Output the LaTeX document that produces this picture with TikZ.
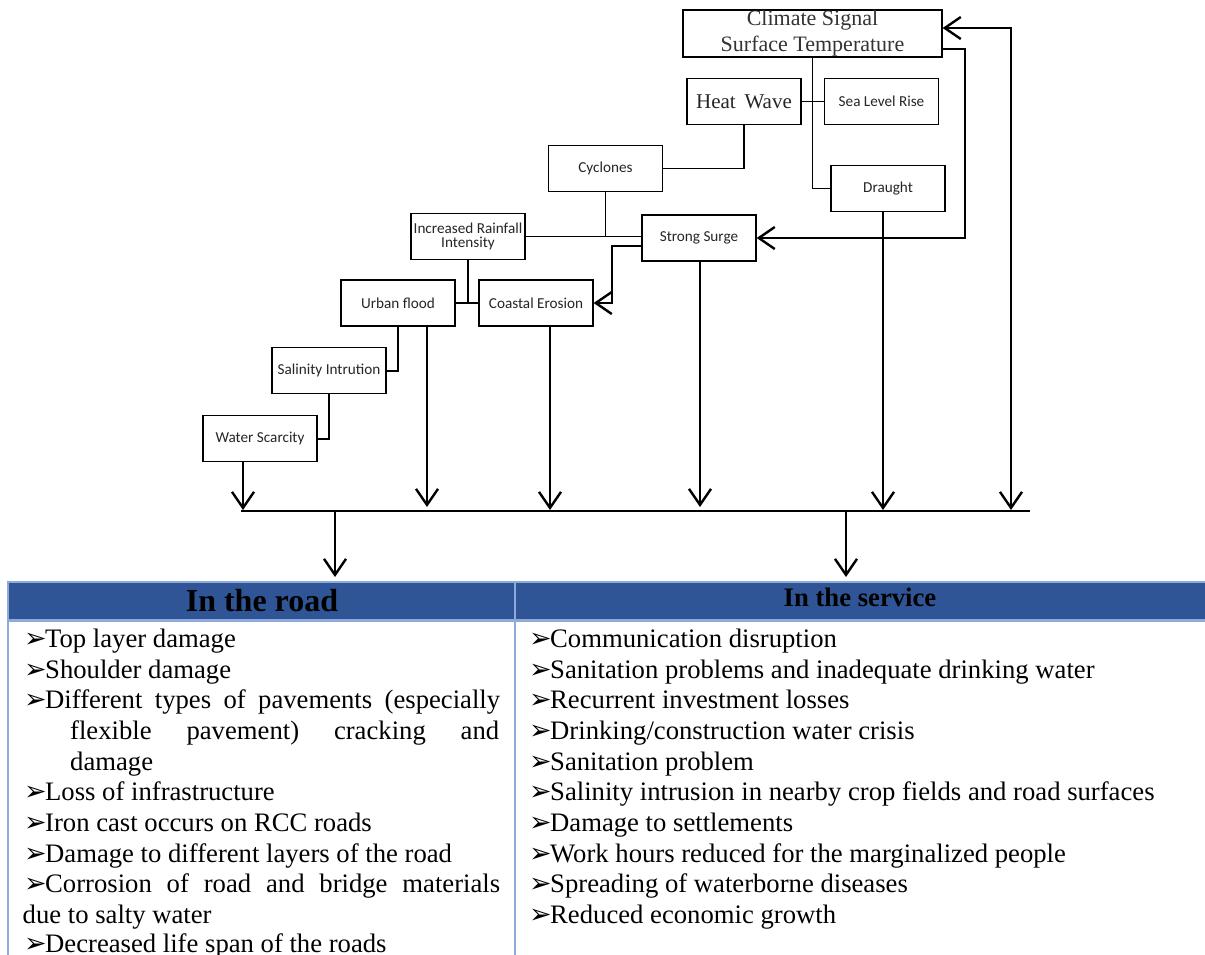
\documentclass[tikz,border=0pt]{standalone}
\usepackage{fontspec}
\setmainfont{Liberation Serif}
\newfontfamily\calfont{Carlito}
\newfontfamily\dejavu{DejaVu Sans}
\usetikzlibrary{arrows.meta}
\definecolor{hdrblue}{HTML}{2F5597}
\definecolor{lineblue}{HTML}{8EAADB}
\newcommand{\bul}{\makebox[20pt][l]{\hspace{-1pt}\dejavu\fontsize{27}{27}\selectfont ➢}}
\tikzset{
 box/.style={draw=black, line width=1.3pt, minimum width=114pt, minimum height=46pt, inner sep=0pt,
   font=\calfont\fontsize{15.2}{14.5}\selectfont, align=center, text=black!85},
 conn/.style={line width=1.6pt},
 bigarrow/.style={line width=2.4pt, -{Straight Barb[length=16pt,width=22pt]}},
 baseln/.style={line width=1.3pt},
 tline/.style={lineblue, line width=2.5pt},
 item/.style={anchor=base west, inner sep=0pt, font=\fontsize{26.67}{30}\selectfont},
}
\begin{document}
\begin{tikzpicture}[x=1pt,y=-1pt]
\clip (0,0) rectangle (1205,954);
\fill[white] (0,0) rectangle (1205,954);
% boxes
\node[box, minimum width=259pt, minimum height=47pt, font=\fontsize{22}{26}\selectfont, text=black!80] (clim) at (812.5,33.5) {Climate Signal\\Surface Temperature};
\node[box, font=\fontsize{21}{24}\selectfont] (heat) at (744,101.5) {Heat\, Wave};
\node[box] (sea) at (881.5,101.5) {Sea Level Rise};
\node[box] (draught) at (888,188.5) {Draught};
\node[box] (cyc) at (605.5,168.5) {Cyclones};
\node[box] (surge) at (699,238) {Strong Surge};
\node[box] (iri) at (468,236.3) {Increased Rainfall\\Intensity};
\node[box] (coast) at (536,303) {Coastal Erosion};
\node[box] (urban) at (398,303) {Urban flood};
\node[box] (sal) at (329,370.8) {Salinity Intrution};
\node[box] (water) at (260,438.8) {Water Scarcity};
% thin connectors
\draw[conn] (clim.south) |- (draught.west);
\draw[conn] (heat.east) -- (sea.west);
\draw[conn] (heat.south) |- (cyc.east);
\draw[conn] (iri.east) -- (iri.east -| surge.west);
\draw[conn] (cyc.south) -- (cyc.south |- iri.east);
\draw[conn] (iri.south) -- (iri.south |- urban.east);
\draw[conn] (urban.east) -- (coast.west);
\draw[conn] (urban.south) |- (sal.east);
\draw[conn] (sal.south) |- (water.east);
% base line
\coordinate (bL) at (241,511);
\coordinate (bR) at (1030,511);
\draw[baseln] (bL) -- (bR);
% arrows to base line
\coordinate (a1) at (243,510);
\coordinate (a2) at (427,507);
\coordinate (a3) at (550,510);
\coordinate (a4) at (700,507);
\coordinate (a5) at (883,510);
\draw[bigarrow] (water.south -| a1) -- (a1);
\draw[bigarrow] (urban.south -| a2) -- (a2);
\draw[bigarrow] (coast.south -| a3) -- (a3);
\draw[bigarrow] (surge.south -| a4) -- (a4);
\draw[bigarrow] (draught.south -| a5) -- (a5);
\coordinate (r1) at (1011,28);
\coordinate (a6) at (1011,510);
\draw[line width=2.4pt, {Straight Barb[length=16pt,width=22pt]}-{Straight Barb[length=16pt,width=22pt]}] (clim.east |- r1) -- (r1) -- (a6);
\coordinate (k1) at (965,49);
\draw[bigarrow] (clim.east |- k1) -- (k1) |- (surge.east);
\coordinate (k2) at (612,245.7);
\draw[bigarrow] (surge.west |- k2) -- (k2) |- (coast.east);
\coordinate (d1) at (335,577);
\coordinate (d2) at (846,577);
\draw[bigarrow] (d1 |- bL) -- (d1);
\draw[bigarrow] (d2 |- bL) -- (d2);
% table
\fill[hdrblue] (8,582) rectangle (1210,620);
\draw[tline] (8,960) -- (8,582) -- (1210,582);
\draw[tline] (8,620.5) -- (1210,620.5);
\draw[tline] (515,582) -- (515,960);
\node[font=\bfseries\fontsize{32}{32}\selectfont, inner sep=0pt] (h1) at (262,601) {In the road};
\node[font=\bfseries\fontsize{26.67}{27}\selectfont, inner sep=0pt] (h2) at (860,597.5) {In the service};
% left column
\node[item] (l0) at (25,647.3) {\bul Top layer damage};
\node[item] (l1) at (25,678.0) {\bul Shoulder damage};
\node[item] (l2) at (25,708.7) {\bul\makebox[455pt][s]{Different types of pavements (especially}};
\node[item] (l3) at (70,739.4) {\makebox[429pt][s]{flexible pavement) cracking and}};
\node[item] (l4) at (70,770.1) {damage};
\node[item] (l5) at (25,800.8) {\bul Loss of infrastructure};
\node[item] (l6) at (25,831.5) {\bul Iron cast occurs on RCC roads};
\node[item] (l7) at (25,862.2) {\bul Damage to different layers of the road};
\node[item] (l8) at (25,892.9) {\bul\makebox[455pt][s]{Corrosion of road and bridge materials}};
\node[item] (l9) at (22.5,923.6) {due to salty water};
\node[item] (l10) at (25,952) {\bul Decreased life span of the roads};
% right column
\node[item] (s0) at (530,647.3) {\bul Communication disruption};
\node[item] (s1) at (530,678.0) {\bul Sanitation problems and inadequate drinking water};
\node[item] (s2) at (530,708.7) {\bul Recurrent investment losses};
\node[item] (s3) at (530,739.4) {\bul Drinking/construction water crisis};
\node[item] (s4) at (530,770.1) {\bul Sanitation problem};
\node[item] (s5) at (530,800.8) {\bul Salinity intrusion in nearby crop fields and road surfaces};
\node[item] (s6) at (530,831.5) {\bul Damage to settlements};
\node[item] (s7) at (530,862.2) {\bul Work hours reduced for the marginalized people};
\node[item] (s8) at (530,892.9) {\bul Spreading of waterborne diseases};
\node[item] (s9) at (530,923.6) {\bul Reduced economic growth};
\end{tikzpicture}
\end{document}
